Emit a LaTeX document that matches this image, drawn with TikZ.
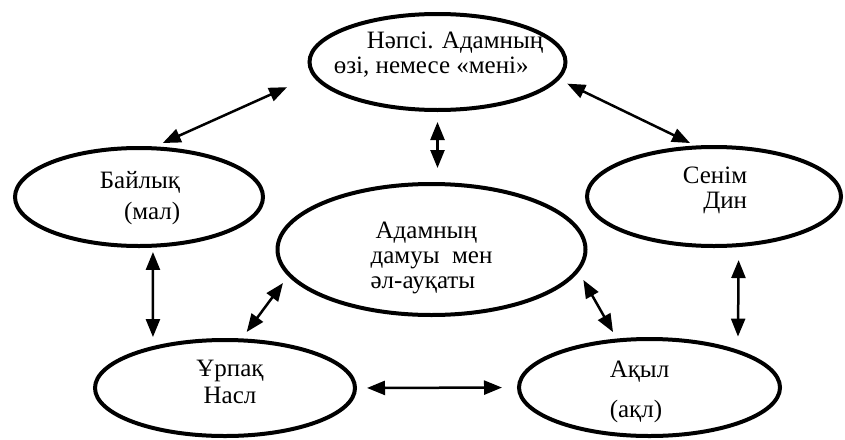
\documentclass[tikz,border=0pt]{standalone}
\usepackage{fontspec}
\setmainfont{Liberation Serif}
\usetikzlibrary{
    arrows.meta,
    shapes.geometric,
    positioning
}
\tikzstyle{elli} = [ellipse, draw, line width=4pt, inner sep=0pt, outer sep=0pt]
\tikzstyle{txt} = [inner sep=0pt, font=\fontsize{25}{25}\selectfont]
\tikzstyle{linkboth} = [{Triangle[length=18pt, width=14pt]}-{Triangle[length=18pt, width=14pt]}, line width=2.5pt]

\begin{document}
\begin{tikzpicture}[x=1pt, y=-1pt]
    \useasboundingbox (0,0) rectangle (845,439);

    % ellipses
    \node[elli, minimum width=256pt, minimum height=96pt]  (nafs)  at (437.5,62)    {};
    \node[elli, minimum width=248pt, minimum height=98pt]  (bal)   at (139,197)     {};
    \node[elli, minimum width=308pt, minimum height=131pt] (adam)  at (431.5,249.5) {};
    \node[elli, minimum width=254pt, minimum height=99pt]  (senim) at (714,196.5)   {};
    \node[elli, minimum width=260pt, minimum height=96pt]  (urpaq) at (225,388)     {};
    \node[elli, minimum width=261pt, minimum height=97pt]  (aqyl)  at (649.5,387.5) {};

    % texts
    \node[txt, align=left]   (nafs-t)  at ([xshift=1pt, yshift=7pt]nafs.center)    {\hspace*{33pt}Нәпсі. Адамның\\өзі, немесе «мені»};
    \node[txt, align=right]  (bal-t)   at ([xshift=1pt, yshift=-1pt]bal.center)     {Байлық\\[6pt](мал)};
    \node[txt, align=left]   (adam-t)  at ([yshift=-8pt]adam.center)                {\hspace*{5pt}Адамның\\дамуы\ \ мен\\әл-ауқаты};
    \node[txt, align=right]  (senim-t) at ([xshift=1pt, yshift=6pt]senim.center)    {Сенім\\Дин};
    \node[txt, align=center] (urpaq-t) at ([xshift=5pt, yshift=6pt]urpaq.center)    {Ұрпақ\\[2pt]Насл};
    \node[txt, align=left]   (aqyl-t)  at ([xshift=-10pt, yshift=-4pt]aqyl.center)  {Ақыл\\[15pt](ақл)};

    % links
    \draw[linkboth, shorten <=12.7pt, shorten >=29.8pt] (bal.76) -- (nafs.186);
    \draw[linkboth, shorten <=12pt, shorten >=16pt] (nafs.south) -- (nafs.south |- adam.north);
    \draw[linkboth, shorten <=11pt, shorten >=9.9pt] (nafs.352) -- (senim.107);
    \draw[linkboth, shorten <=6.3pt, shorten >=11pt] (bal.286) -- (urpaq.151);
    \draw[linkboth, shorten <=15pt, shorten >=15.2pt] (senim.297) -- (aqyl.22);
    \draw[linkboth, shorten <=10.5pt, shorten >=10.4pt] (adam.190) -- (urpaq.72);
    \draw[linkboth, shorten <=11.4pt, shorten >=9.6pt] (adam.352) -- (aqyl.124);
    \draw[linkboth, shorten <=12pt, shorten >=17pt] (urpaq.east) -- (aqyl.west);
\end{tikzpicture}
\end{document}
